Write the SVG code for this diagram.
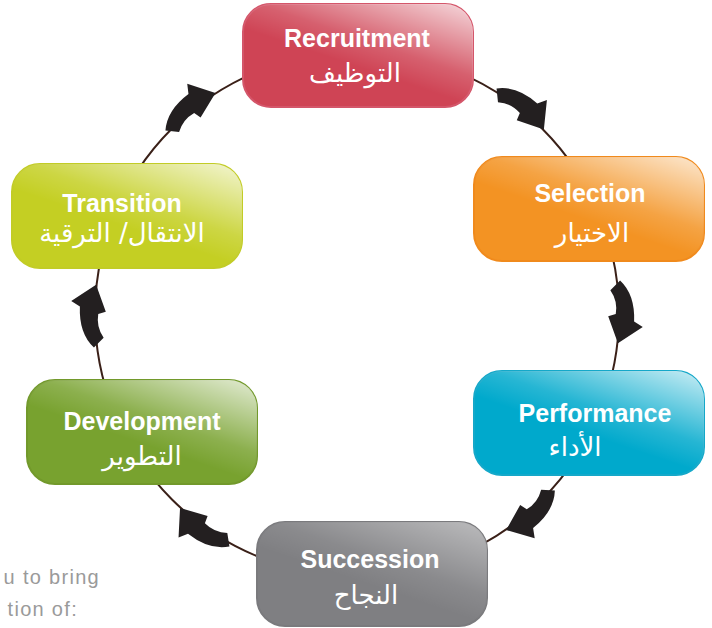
<svg xmlns="http://www.w3.org/2000/svg" width="712" height="628" viewBox="0 0 712 628">
<style>
.en{font-family:"Liberation Sans",Arial,sans-serif;font-weight:bold;font-size:25px;fill:#fff;text-anchor:middle}
.ar{font-family:"DejaVu Sans","Noto Sans",sans-serif;font-size:26px;fill:#fff;text-anchor:middle}
.bg{font-family:"Liberation Sans",Arial,sans-serif;font-size:20px;letter-spacing:1.3px;fill:#9a9a9a;text-anchor:end}
.arrow{fill:#231f20}
.box{stroke-width:2}
</style>
<defs>
<linearGradient id="gloss" x1="0.55" y1="0.65" x2="1" y2="0.05">
<stop offset="0" stop-color="#fff" stop-opacity="0"/>
<stop offset="0.3" stop-color="#fff" stop-opacity="0.15"/>
<stop offset="1" stop-color="#fff" stop-opacity="0.75"/>
</linearGradient>
<path id="arr" d="M -8,-22 L 1,-31 Q 15,-18 14,7 L 22,12 L -1,27 L -10,2 L -3,0 Q -1,-12 -8,-22 Z"/>
</defs>
<rect width="712" height="628" fill="#fff"/>
<text class="bg" x="100" y="584">u to bring</text>
<text class="bg" x="78" y="616">tion of:</text>
<g id="connectors">
<circle cx="357" cy="314" r="262" fill="none" stroke="#3a2018" stroke-width="2"/>
<use href="#arr" class="arrow" transform="rotate(-51 357 314) translate(619 314) scale(1.08)"/>
<use href="#arr" class="arrow" transform="rotate(0 357 314) translate(619 314) scale(1.08)"/>
<use href="#arr" class="arrow" transform="rotate(49 357 314) translate(619 314) scale(1.08)"/>
<use href="#arr" class="arrow" transform="rotate(126 357 314) translate(619 314) scale(1.08)"/>
<use href="#arr" class="arrow" transform="rotate(180 357 314) translate(619 314) scale(1.08)"/>
<use href="#arr" class="arrow" transform="rotate(231 357 314) translate(619 314) scale(1.08)"/>
</g>
<g id="recruitment">
<rect class="box" x="243" y="4" width="230" height="103" rx="28" fill="#cf4455" stroke="#d4566a"/>
<rect x="243" y="4" width="230" height="103" rx="28" fill="url(#gloss)"/>
<text class="en" x="357" y="47">Recruitment</text>
<text class="ar" x="355" y="82">التوظيف</text>
</g>
<g id="selection">
<rect class="box" x="474" y="157" width="230" height="104" rx="28" fill="#f39323" stroke="#f08a1c"/>
<rect x="474" y="157" width="230" height="104" rx="28" fill="url(#gloss)"/>
<text class="en" x="590" y="202">Selection</text>
<text class="ar" x="592" y="242">الاختيار</text>
</g>
<g id="performance">
<rect class="box" x="474" y="371" width="230" height="104" rx="28" fill="#00a9cc" stroke="#14a8c9"/>
<rect x="474" y="371" width="230" height="104" rx="28" fill="url(#gloss)"/>
<text class="en" x="595" y="422">Performance</text>
<text class="ar" x="575" y="456">الأداء</text>
</g>
<g id="succession">
<rect class="box" x="257" y="522" width="230" height="104" rx="28" fill="#7f7f82" stroke="#7a7a7d"/>
<rect x="257" y="522" width="230" height="104" rx="28" fill="url(#gloss)" opacity="0.6"/>
<text class="en" x="370" y="568">Succession</text>
<text class="ar" x="366" y="604">النجاح</text>
</g>
<g id="development">
<rect class="box" x="27" y="380" width="230" height="104" rx="28" fill="#78a22f" stroke="#72992b"/>
<rect x="27" y="380" width="230" height="104" rx="28" fill="url(#gloss)"/>
<text class="en" x="142" y="430">Development</text>
<text class="ar" x="142" y="465">التطوير</text>
</g>
<g id="transition">
<rect class="box" x="12" y="164" width="230" height="104" rx="28" fill="#c4cf23" stroke="#c2cc26"/>
<rect x="12" y="164" width="230" height="104" rx="28" fill="url(#gloss)"/>
<text class="en" x="122" y="212">Transition</text>
<text class="ar" x="122" y="242">الانتقال/ الترقية</text>
</g>
</svg>
